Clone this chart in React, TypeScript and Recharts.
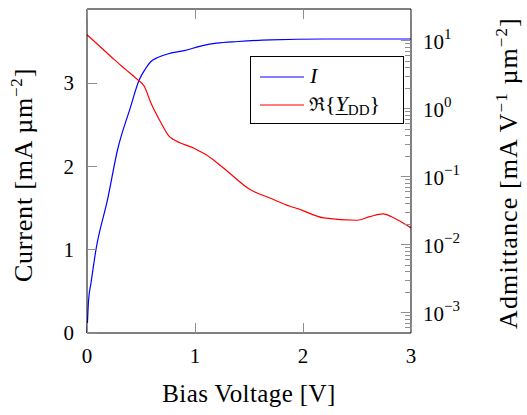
import { LineChart, Line, XAxis, YAxis, ReferenceLine } from 'recharts';

// bias sweep for the current curve (V) and current density (mA/µm²)
const biasI = [0, 0.015, 0.037, 0.083, 0.19, 0.283, 0.4, 0.484, 0.54, 0.592, 0.66, 0.746, 0.9, 1.07, 1.2, 1.4, 1.7, 2.2, 3.0];
const current = [0, 0.4, 0.6, 1.0, 1.6, 2.2, 2.7, 3.04, 3.17, 3.26, 3.31, 3.35, 3.39, 3.45, 3.48, 3.5, 3.52, 3.53, 3.53];

// bias sweep for the admittance curve (V) and Re{Y_DD} (mA/V/µm²)
const biasY = [0, 0.12, 0.253, 0.36, 0.468, 0.53, 0.592, 0.678, 0.761, 0.801, 0.986, 1.1, 1.264, 1.51, 1.7, 1.88, 1.957, 2.19, 2.5, 2.62, 2.74, 2.82, 2.9, 3.0];
const admittance = [12.2, 8.2, 5.26, 3.75, 2.67, 2.13, 1.21, 0.65, 0.39, 0.35, 0.264, 0.211, 0.134, 0.0646, 0.048, 0.0366, 0.0335, 0.0247, 0.0228, 0.0258, 0.0282, 0.0257, 0.022, 0.0176];

const xTicks = [0, 1, 2, 3];
const currentTicks = [0, 1, 2, 3];
const currentMax = 3.89;
const decadeTicks = [1e-3, 1e-2, 1e-1, 1, 10];
const minorTicks = [
  6e-4, 7e-4, 8e-4, 9e-4,
  2e-3, 3e-3, 4e-3, 5e-3, 6e-3, 7e-3, 8e-3, 9e-3,
  2e-2, 3e-2, 4e-2, 5e-2, 6e-2, 7e-2, 8e-2, 9e-2,
  0.2, 0.3, 0.4, 0.5, 0.6, 0.7, 0.8, 0.9,
  2, 3, 4, 5, 6, 7, 8, 9,
];

const currentData = biasI.map((v, k) => ({ v, i: current[k] }));
const admittanceData = biasY.map((v, k) => ({ v, y: admittance[k] }));

const FONT = '"Liberation Serif", "DejaVu Serif", serif';
const TICK_GRAY = '#8e8e8e';
const TICK_LEN = 10;
const MINOR_LEN = 6;
const LEFT_GAP = 13;
const BOTTOM_GAP = 15;
const RIGHT_GAP = 12;
const MARGIN = { top: 9, right: 16, bottom: 42, left: 40 };

// tick marks are drawn inside the frame as crisp 1px rects, labels outside
const LeftTick = (p: any) => {
  const frameX = p.x + LEFT_GAP;
  return (
    <g>
      <rect x={frameX} y={Math.floor(p.y)} width={TICK_LEN} height={1} fill={TICK_GRAY} />
      <text x={p.x} y={p.y} dy="0.35em" textAnchor="end" fontSize={21} fontFamily={FONT} fill="#000">
        {p.payload.value}
      </text>
    </g>
  );
};

const BottomTick = (p: any) => {
  const frameY = p.y - BOTTOM_GAP;
  const tx = Math.floor(p.x);
  return (
    <g>
      <rect x={tx} y={frameY - TICK_LEN} width={1} height={TICK_LEN} fill={TICK_GRAY} />
      <rect x={tx} y={MARGIN.top} width={1} height={TICK_LEN} fill={TICK_GRAY} />
      <text x={p.x} y={p.y} dy="0.71em" textAnchor="middle" fontSize={21} fontFamily={FONT} fill="#000">
        {p.payload.value}
      </text>
    </g>
  );
};

const RightTick = (p: any) => {
  const val = p.payload.value;
  const exp = Math.round(Math.log10(val));
  const isMajor = Math.abs(Math.log10(val) - exp) < 1e-6;
  const frameX = p.x - RIGHT_GAP;
  const len = isMajor ? TICK_LEN : MINOR_LEN;
  return (
    <g>
      <rect x={frameX - len} y={Math.floor(p.y)} width={len} height={1} fill={TICK_GRAY} />
      {isMajor && (
        <text x={p.x} y={p.y} dy="0.42em" textAnchor="start" fontSize={21} fontFamily={FONT} fill="#000">
          10
          <tspan dy="-10" fontSize={15}>{exp < 0 ? `\u2212${-exp}` : exp}</tspan>
        </text>
      )}
    </g>
  );
};

const Titles = () => (
  <svg width={527} height={415} style={{ position: 'absolute', left: 0, top: 0, pointerEvents: 'none' }}>
    <text x={32} y={175} transform="rotate(-90 32 175)" textAnchor="middle" fontSize={26} letterSpacing={0.8} fontFamily={FONT} fill="#000">
      Current [mA µm<tspan dy="-10" fontSize={17}>−2</tspan><tspan dy="10">]</tspan>
    </text>
    <text x={517} y={173} transform="rotate(-90 517 173)" textAnchor="middle" fontSize={26} letterSpacing={1.1} fontFamily={FONT} fill="#000">
      Admittance [mA V<tspan dy="-10" fontSize={17}>−1</tspan><tspan dy="10"> µm</tspan>
      <tspan dy="-10" fontSize={17}>−2</tspan><tspan dy="10">]</tspan>
    </text>
    <text x={249} y={402} textAnchor="middle" fontSize={25} letterSpacing={0.4} fontFamily={FONT} fill="#000">
      Bias Voltage [V]
    </text>
  </svg>
);

const LegendBox = () => (
  <div
    style={{
      position: 'absolute',
      left: 250,
      top: 56,
      border: '1px solid #000',
      background: '#fff',
      width: 152,
      height: 66,
      fontFamily: FONT,
      fontSize: 22,
    }}
  >
    <svg width={60} height={66} style={{ position: 'absolute', left: 0, top: 0 }}>
      <line x1={9} x2={53} y1={20} y2={20} stroke="blue" strokeWidth={1.2} />
      <line x1={9} x2={53} y1={48} y2={48} stroke="red" strokeWidth={1.2} />
    </svg>
    <div style={{ position: 'absolute', left: 59, top: 6, lineHeight: '26px', fontStyle: 'italic' }}>I</div>
    <div style={{ position: 'absolute', left: 58, top: 34, lineHeight: '26px', whiteSpace: 'nowrap' }}>
      <span style={{ fontFamily: '"DejaVu Serif", serif', fontSize: 19 }}>ℜ</span>
      {'{'}
      <span style={{ fontStyle: 'italic', textDecoration: 'underline', textUnderlineOffset: 3, textDecorationThickness: 1 }}>Y</span>
      <sub style={{ fontSize: 15, verticalAlign: '-4px' }}>DD</sub>
      {'}'}
    </div>
  </div>
);

const frame = { stroke: '#000', strokeWidth: 1 };

export default function App() {
  return (
    <div style={{ position: 'absolute', left: 0, top: 0, width: 527, height: 415, background: '#fff' }}>
      <LineChart width={527} height={415} margin={MARGIN}>
        <XAxis
          dataKey="v"
          type="number"
          domain={[0, 3]}
          ticks={xTicks}
          interval={0}
          height={40}
          stroke="#000"
          tickSize={0}
          tickMargin={BOTTOM_GAP}
          tickLine={false}
          tick={<BottomTick />}
          axisLine={frame}
        />
        <YAxis
          yAxisId="left"
          type="number"
          domain={[0, currentMax]}
          allowDataOverflow
          ticks={currentTicks}
          interval={0}
          width={47}
          stroke="#000"
          tickSize={0}
          tickMargin={LEFT_GAP}
          tickLine={false}
          tick={<LeftTick />}
          axisLine={frame}
        />
        <YAxis
          yAxisId="right"
          orientation="right"
          type="number"
          scale="log"
          domain={[5.0e-4, 29.2]}
          allowDataOverflow
          ticks={[...minorTicks, ...decadeTicks].sort((a, b) => a - b)}
          interval={0}
          width={100}
          stroke="#000"
          tickSize={0}
          tickMargin={RIGHT_GAP}
          tickLine={false}
          tick={<RightTick />}
          axisLine={frame}
        />
        <ReferenceLine yAxisId="left" y={currentMax} stroke="#000" strokeWidth={1} ifOverflow="visible" />
        <Line yAxisId="left" data={currentData} dataKey="i" type="monotone" stroke="blue" strokeWidth={1.2} dot={false} isAnimationActive={false} />
        <Line yAxisId="right" data={admittanceData} dataKey="y" type="monotone" stroke="red" strokeWidth={1.2} dot={false} isAnimationActive={false} />
      </LineChart>
      <Titles />
      <LegendBox />
    </div>
  );
}
